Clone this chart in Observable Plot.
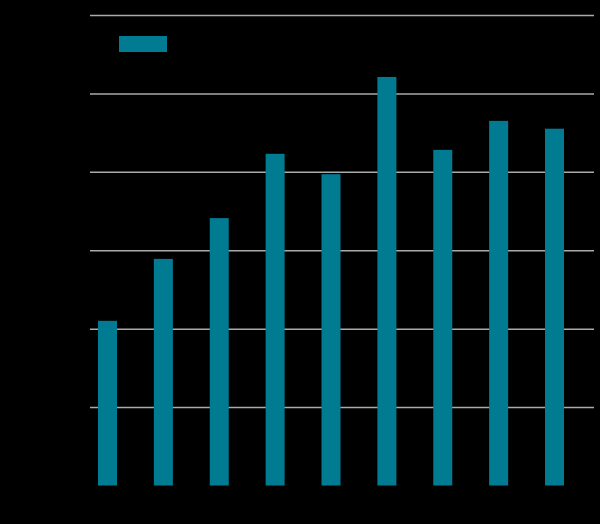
<!DOCTYPE html>
<html>
<head>
<meta charset="utf-8">
<script src="https://cdn.jsdelivr.net/npm/d3@7"></script>
<script src="https://cdn.jsdelivr.net/npm/@observablehq/plot@0.6"></script>
<style>
  html, body { margin: 0; padding: 0; background: #000; }
  #wrap { position: relative; width: 600px; height: 524px; }
  #legend { position: absolute; left: 119px; top: 36px; display: flex; align-items: center;
            font: 12px "Liberation Sans", Arial, sans-serif; color: #000; }
  #legend .sw { width: 48px; height: 16px; background: #007B91; margin-right: 6px; }
</style>
</head>
<body>
<div id="wrap"><div id="legend"><div class="sw"></div><span>Value</span></div></div>
<script>
const categories = ["1", "2", "3", "4", "5", "6", "7", "8", "9"];
const values = [21.0, 28.9, 34.1, 42.3, 39.7, 52.1, 42.8, 46.5, 45.5];
const yTicks = [0, 10, 20, 30, 40, 50, 60];
const gridTicks = [10, 20, 30, 40, 50, 60];
const seriesName = "Value";

const data = categories.map((c, i) => ({category: c, value: values[i]}));

const chart = Plot.plot({
  width: 600,
  height: 524,
  marginLeft: 90,
  marginRight: 6,
  marginTop: 15,
  marginBottom: 38.5,
  style: {background: "#000", color: "#000", fontFamily: "Liberation Sans, Arial, sans-serif", fontSize: "12px"},
  x: {domain: categories, range: [90, 572], paddingInner: 0.66, paddingOuter: 0.143, round: false, label: null},
  y: {domain: [0, 60], ticks: yTicks, label: null},
  marks: [
    Plot.ruleY(gridTicks, {stroke: "#aaaaaa", strokeWidth: 1.5}),
    Plot.barY(data, {x: "category", y: "value", fill: "#007B91", title: d => `${seriesName}: ${d.value}`}),
    Plot.axisX({tickSize: 0, color: "#000", fill: "#000"}),
    Plot.axisY({tickSize: 0, color: "#000", fill: "#000"})
  ]
});
document.getElementById("legend").querySelector("span").textContent = seriesName;
document.getElementById("wrap").prepend(chart);
</script>
</body>
</html>
